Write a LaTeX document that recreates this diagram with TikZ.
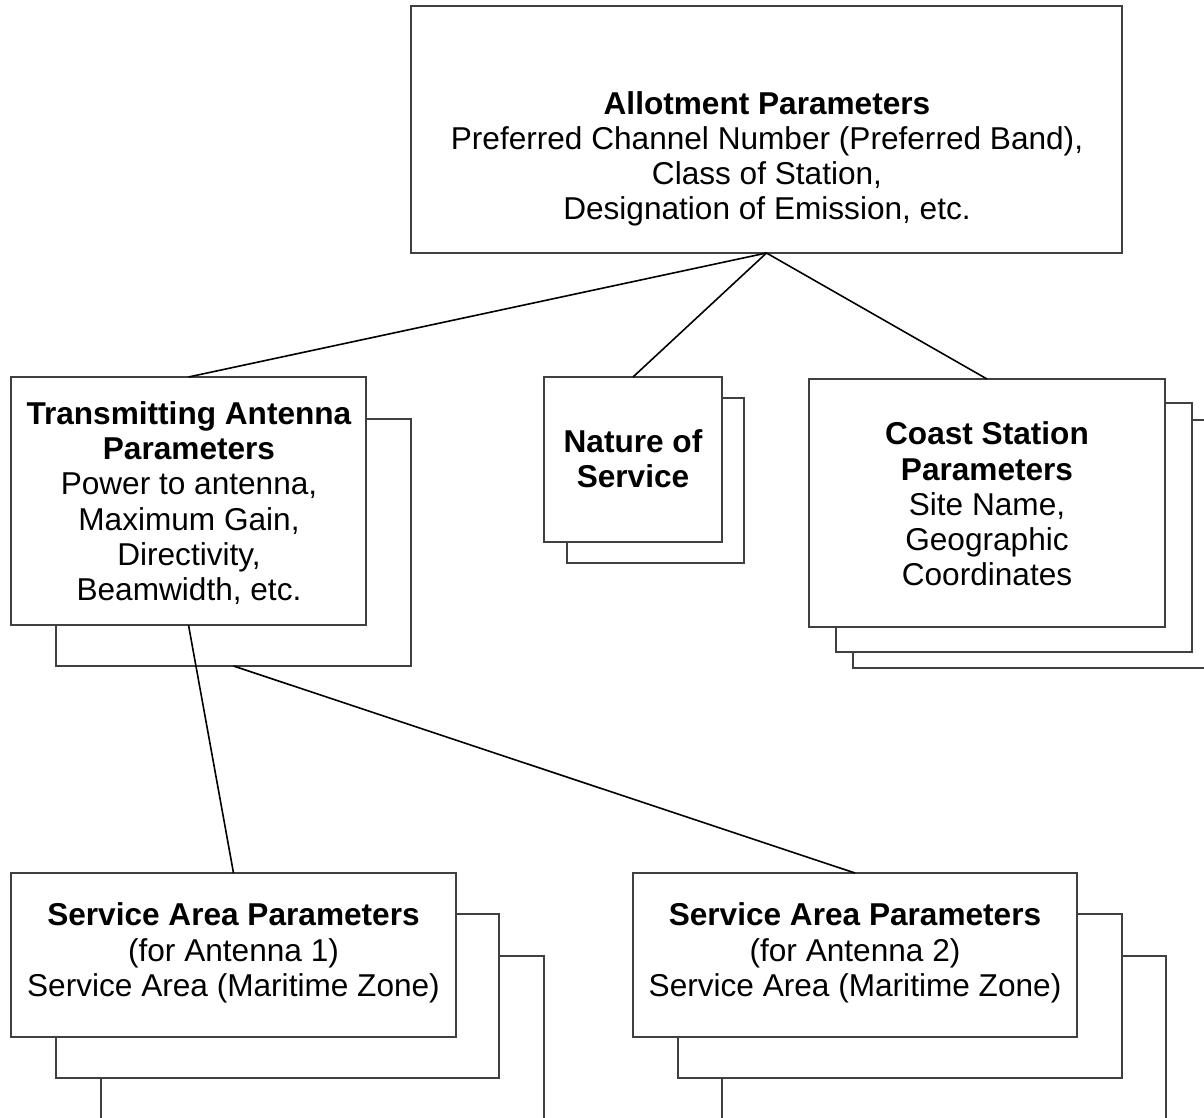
\documentclass[tikz,border=0pt]{standalone}
\usepackage{fontspec}
\setmainfont{Liberation Sans}
\begin{document}
\begin{tikzpicture}[x=1pt,y=-1pt,
  box/.style={draw=black!75, line width=1.2pt, fill=white, inner sep=0pt, outer sep=0pt, anchor=north west},
  lbl/.style={align=center, inner sep=0pt, font=\fontsize{31.6}{35.2}\selectfont},
  conn/.style={draw=black, line width=1.6pt}]
\useasboundingbox (0,0) rectangle (1204,1118);
\clip (0,0) rectangle (1204,1118);
% top box
\node[box, minimum width=711pt, minimum height=247pt] (top) at (411,6) {};
\node[lbl] (toptext) at (767,159) {\textbf{Allotment Parameters}\\Preferred Channel Number (Preferred Band),\\Class of Station,\\Designation of Emission, etc.};
% transmitting antenna
\node[box, minimum width=355pt, minimum height=247pt] (tab) at (56,419) {};
\node[box, minimum width=355pt, minimum height=248pt] (ta) at (11,377) {};
\node[lbl] (tatext) at (189,503) {\textbf{Transmitting Antenna}\\\textbf{Parameters}\\Power to antenna,\\Maximum Gain,\\Directivity,\\Beamwidth, etc.};
% nature of service
\node[box, minimum width=177pt, minimum height=165pt] (natb) at (567,398) {};
\node[box, minimum width=178pt, minimum height=165pt] (nat) at (544,377) {};
\node[lbl] (nattext) at (633,459) {\textbf{Nature of}\\\textbf{Service}};
% coast station
\node[box, minimum width=356pt, minimum height=248pt] (csc) at (853,420) {};
\node[box, minimum width=356pt, minimum height=249pt] (csb) at (836,403) {};
\node[box, minimum width=356pt, minimum height=248pt] (cs) at (809,379) {};
\node[lbl] (cstext) at (987,504) {\textbf{Coast Station}\\\textbf{Parameters}\\Site Name,\\Geographic\\Coordinates};
% service area 1
\node[box, minimum width=443pt, minimum height=164pt] (sa1c) at (101,956) {};
\node[box, minimum width=443pt, minimum height=164pt] (sa1b) at (56,914) {};
\node[box, minimum width=445pt, minimum height=164pt] (sa1) at (11,873) {};
\node[lbl] (sa1text) at (233.5,953) {\textbf{Service Area Parameters}\\(for Antenna 1)\\Service Area (Maritime Zone)};
% service area 2
\node[box, minimum width=444pt, minimum height=164pt] (sa2c) at (722,956) {};
\node[box, minimum width=444pt, minimum height=164pt] (sa2b) at (678,914) {};
\node[box, minimum width=444pt, minimum height=164pt] (sa2) at (633,873) {};
\node[lbl] (sa2text) at (855,953) {\textbf{Service Area Parameters}\\(for Antenna 2)\\Service Area (Maritime Zone)};
% connectors
\draw[conn] (top.south) -- (ta.north);
\draw[conn] (top.south) -- (nat.north);
\draw[conn] (top.south) -- (cs.north);
\draw[conn] (ta.south) -- (sa1.north);
\draw[conn] (tab.south) -- (sa2.north);
\end{tikzpicture}
\end{document}
